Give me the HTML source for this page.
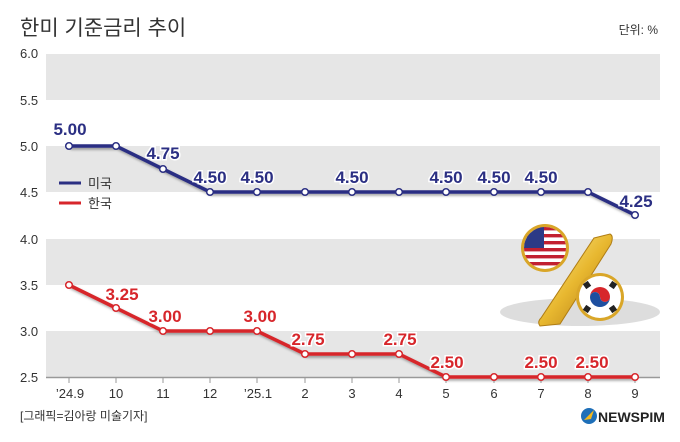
<!DOCTYPE html>
<html><head><meta charset="utf-8"><style>
body{margin:0;background:#fff}
svg{display:block;font-family:"Liberation Sans","Noto Sans CJK KR",sans-serif}
.yl{font-size:13px;fill:#333}
.xl{font-size:13px;fill:#333;text-anchor:middle}
.us{font-size:17px;font-weight:bold;fill:#2b2f83;text-anchor:middle;stroke:#fff;stroke-width:3;paint-order:stroke}
.kr{font-size:17px;font-weight:bold;fill:#d7262b;text-anchor:middle;stroke:#fff;stroke-width:3;paint-order:stroke}
</style></head><body>
<svg width="680" height="442" viewBox="0 0 680 442">
<defs>
<filter id="sh" x="-5%" y="-20%" width="110%" height="140%"><feDropShadow dx="1.5" dy="2" stdDeviation="1.2" flood-color="#000" flood-opacity="0.35"/></filter>
<linearGradient id="gold" x1="0" y1="0" x2="1" y2="1"><stop offset="0" stop-color="#fff2a0"/><stop offset="0.5" stop-color="#e8b830"/><stop offset="1" stop-color="#a86f10"/></linearGradient>
<clipPath id="c1"><circle cx="545" cy="248" r="21"/></clipPath>
</defs>
<text x="20" y="35" font-size="21" fill="#333">한미 기준금리 추이</text>
<text x="658" y="34" font-size="12" fill="#333" text-anchor="end">단위: %</text>
<rect x="46" y="54" width="614" height="46" fill="#e6e6e6"/>
<rect x="46" y="146" width="614" height="46" fill="#e6e6e6"/>
<rect x="46" y="239" width="614" height="46" fill="#e6e6e6"/>
<rect x="46" y="331" width="614" height="46" fill="#e6e6e6"/>
<line x1="46" y1="377.5" x2="660" y2="377.5" stroke="#999" stroke-width="1.5"/>
<g class="yl">
<text x="20" y="58">6.0</text><text x="20" y="105">5.5</text><text x="20" y="151">5.0</text><text x="20" y="197">4.5</text><text x="20" y="244">4.0</text><text x="20" y="290">3.5</text><text x="20" y="336">3.0</text><text x="20" y="382">2.5</text>
</g>
<g stroke="#999" stroke-width="1">
<line x1="69" y1="378" x2="69" y2="383"/><line x1="116" y1="378" x2="116" y2="383"/><line x1="163" y1="378" x2="163" y2="383"/><line x1="210" y1="378" x2="210" y2="383"/><line x1="257" y1="378" x2="257" y2="383"/><line x1="305" y1="378" x2="305" y2="383"/><line x1="352" y1="378" x2="352" y2="383"/><line x1="399" y1="378" x2="399" y2="383"/><line x1="446" y1="378" x2="446" y2="383"/><line x1="494" y1="378" x2="494" y2="383"/><line x1="541" y1="378" x2="541" y2="383"/><line x1="588" y1="378" x2="588" y2="383"/><line x1="635" y1="378" x2="635" y2="383"/>
</g>
<g class="xl">
<text x="70" y="398">’24.9</text><text x="116" y="398">10</text><text x="163" y="398">11</text><text x="210" y="398">12</text><text x="258" y="398">’25.1</text><text x="305" y="398">2</text><text x="352" y="398">3</text><text x="399" y="398">4</text><text x="446" y="398">5</text><text x="494" y="398">6</text><text x="541" y="398">7</text><text x="588" y="398">8</text><text x="635" y="398">9</text>
</g>
<text x="20" y="420" font-size="12" fill="#333">[그래픽=김아랑 미술기자]</text>
<!-- legend -->
<line x1="59" y1="183" x2="81" y2="183" stroke="#2b2f83" stroke-width="3"/>
<text x="88" y="188" font-size="13" fill="#333">미국</text>
<line x1="59" y1="203" x2="81" y2="203" stroke="#d7262b" stroke-width="3"/>
<text x="88" y="208" font-size="13" fill="#333">한국</text>
<!-- icon -->
<ellipse cx="580" cy="312" rx="80" ry="14" fill="#ddd"/>
<circle cx="545" cy="248" r="24" fill="#d9a628"/>
<g clip-path="url(#c1)">
<rect x="520" y="226" width="50" height="44" fill="#fff"/>
<g fill="#c22030"><rect x="520" y="227" width="50" height="3.4"/><rect x="520" y="234" width="50" height="3.4"/><rect x="520" y="241" width="50" height="3.4"/><rect x="520" y="248" width="50" height="3.4"/><rect x="520" y="255" width="50" height="3.4"/><rect x="520" y="262" width="50" height="3.4"/></g>
<rect x="520" y="226" width="24" height="22" fill="#2c3a86"/>
</g>
<path d="M594 238 L610 234 Q614 236 611 244 L560 324 L540 326 Q537 322 541 318 Z" fill="url(#gold)" stroke="#b07d14" stroke-width="1"/>
<circle cx="600" cy="297" r="24" fill="#d9a628"/>
<circle cx="600" cy="297" r="21" fill="#fff"/>
<path d="M590 297 a10 10 0 0 1 20 0 a5 5 0 0 1 -10 0 a5 5 0 0 0 -10 0 Z" fill="#d7262b"/>
<path d="M590 297 a10 10 0 0 0 20 0 a5 5 0 0 1 -10 0 a5 5 0 0 0 -10 0 Z" fill="#1e4fa0"/>
<g fill="#222"><rect x="584" y="282" width="6" height="6" transform="rotate(-35 587 285)"/><rect x="610" y="282" width="6" height="6" transform="rotate(35 613 285)"/><rect x="584" y="306" width="6" height="6" transform="rotate(35 587 309)"/><rect x="610" y="306" width="6" height="6" transform="rotate(-35 613 309)"/></g>
<!-- US series -->
<polyline filter="url(#sh)" fill="none" stroke="#2b2f83" stroke-width="3.5" points="69,146 116,146 163,169 210,192 257,192 305,192 352,192 399,192 446,192 494,192 541,192 588,192 635,215"/>
<g fill="#fff" stroke="#2b2f83" stroke-width="1.5">
<circle cx="69" cy="146" r="3.3"/><circle cx="116" cy="146" r="3.3"/><circle cx="163" cy="169" r="3.3"/><circle cx="210" cy="192" r="3.3"/><circle cx="257" cy="192" r="3.3"/><circle cx="305" cy="192" r="3.3"/><circle cx="352" cy="192" r="3.3"/><circle cx="399" cy="192" r="3.3"/><circle cx="446" cy="192" r="3.3"/><circle cx="494" cy="192" r="3.3"/><circle cx="541" cy="192" r="3.3"/><circle cx="588" cy="192" r="3.3"/><circle cx="635" cy="215" r="3.3"/>
</g>
<g class="us">
<text x="70" y="135">5.00</text><text x="163" y="159">4.75</text><text x="210" y="183">4.50</text><text x="257" y="183">4.50</text><text x="352" y="183">4.50</text><text x="446" y="183">4.50</text><text x="494" y="183">4.50</text><text x="541" y="183">4.50</text><text x="636" y="207">4.25</text>
</g>
<!-- KR series -->
<polyline filter="url(#sh)" fill="none" stroke="#d7262b" stroke-width="3.5" points="69,285 116,308 163,331 210,331 257,331 305,354 352,354 399,354 446,377 494,377 541,377 588,377 635,377"/>
<g fill="#fff" stroke="#d7262b" stroke-width="1.5">
<circle cx="69" cy="285" r="3.3"/><circle cx="116" cy="308" r="3.3"/><circle cx="163" cy="331" r="3.3"/><circle cx="210" cy="331" r="3.3"/><circle cx="257" cy="331" r="3.3"/><circle cx="305" cy="354" r="3.3"/><circle cx="352" cy="354" r="3.3"/><circle cx="399" cy="354" r="3.3"/><circle cx="446" cy="377" r="3.3"/><circle cx="494" cy="377" r="3.3"/><circle cx="541" cy="377" r="3.3"/><circle cx="588" cy="377" r="3.3"/><circle cx="635" cy="377" r="3.3"/>
</g>
<g class="kr">
<text x="122" y="300">3.25</text><text x="165" y="322">3.00</text><text x="260" y="322">3.00</text><text x="308" y="345">2.75</text><text x="400" y="345">2.75</text><text x="447" y="368">2.50</text><text x="541" y="368">2.50</text><text x="592" y="368">2.50</text>
</g>
<!-- logo -->
<circle cx="589" cy="416" r="8" fill="#1e6fb8"/>
<path d="M584 420 L594 410 L591 419 Z" fill="#f2b71c"/>
<text x="598" y="422" font-size="14" font-weight="bold" fill="#222">NEWSPIM</text>
</svg>
</body></html>
